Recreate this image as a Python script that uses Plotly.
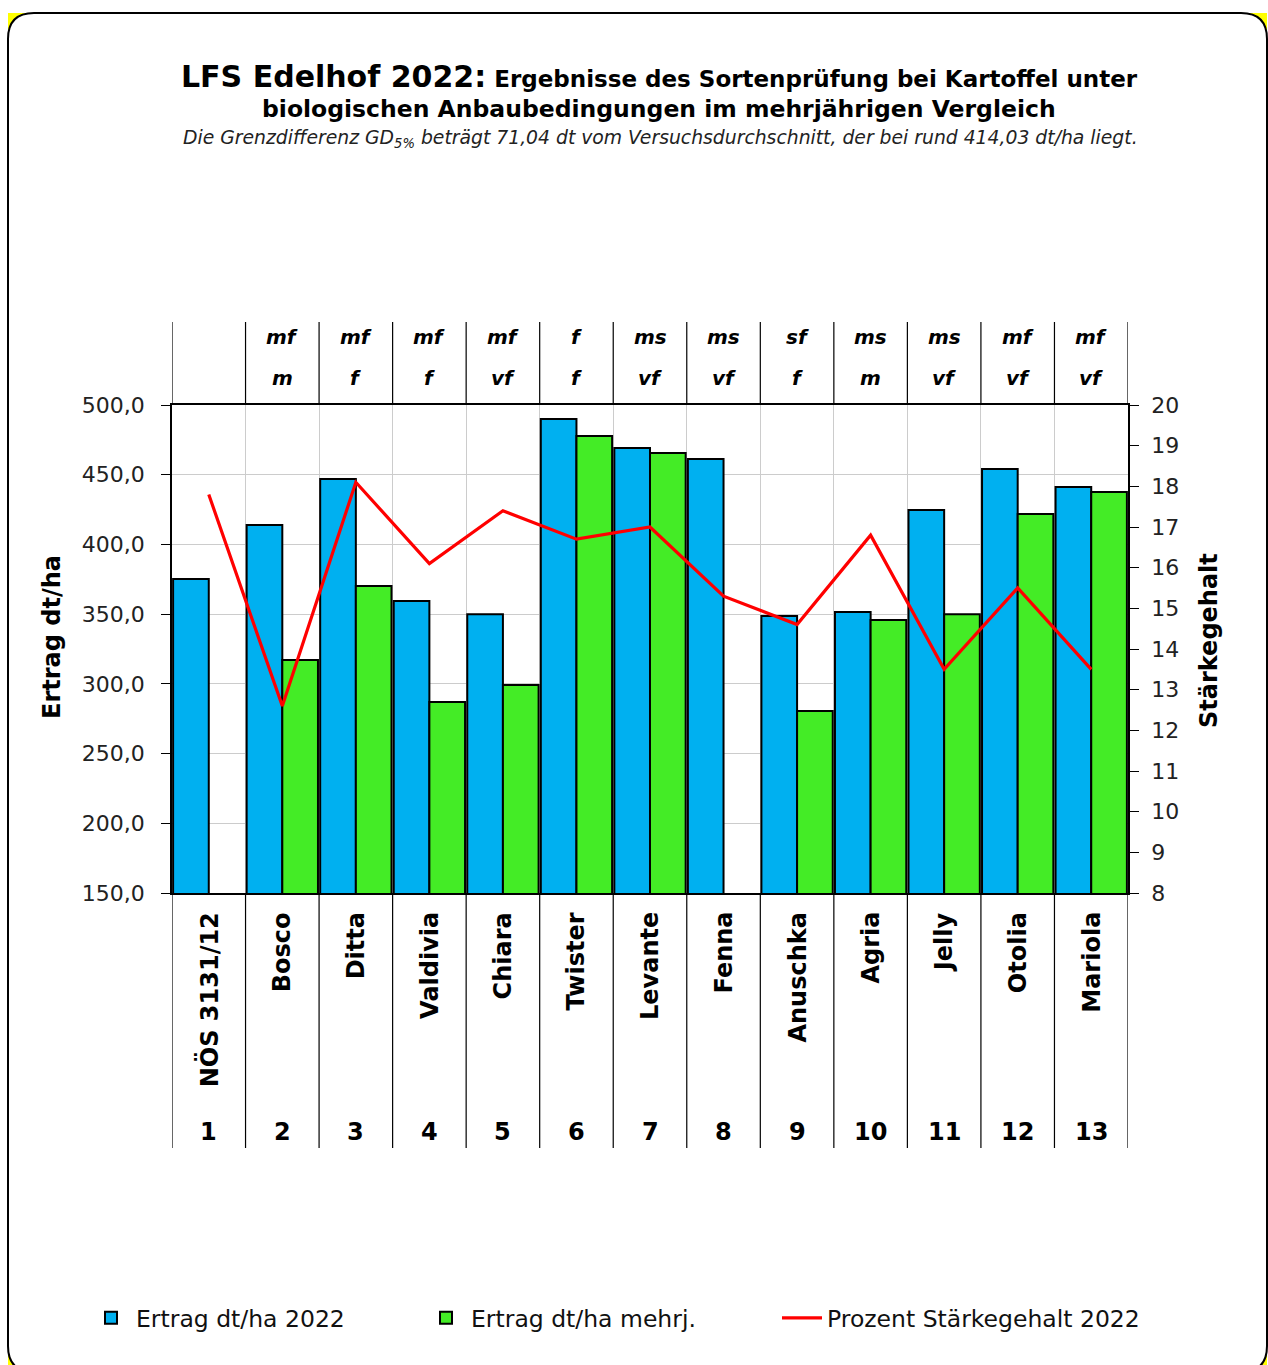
import plotly.graph_objects as go

# ---------------- data ----------------
categories = ["NÖS 3131/12", "Bosco", "Ditta", "Valdivia", "Chiara", "Twister", "Levante",
              "Fenna", "Anuschka", "Agria", "Jelly", "Otolia", "Mariola"]
numbers = ["1", "2", "3", "4", "5", "6", "7", "8", "9", "10", "11", "12", "13"]
reife = ["", "mf", "mf", "mf", "mf", "f", "ms", "ms", "sf", "ms", "ms", "mf", "mf"]
kochtyp = ["", "m", "f", "f", "vf", "f", "vf", "vf", "f", "m", "vf", "vf", "vf"]
ertrag_2022 = [375.2, 413.9, 446.9, 359.4, 350.0, 490.0, 469.2, 461.3, 348.6, 351.5, 424.7, 454.1, 441.2]
ertrag_mehrj = [None, 317.1, 370.2, 287.0, 299.1, 477.8, 465.6, None, 280.5, 345.8, 350.0, 421.8, 437.6]
staerke_2022 = [17.8, 12.6, 18.1, 16.1, 17.4, 16.7, 17.0, 15.3, 14.6, 16.8, 13.5, 15.5, 13.5]
y_ticks = [150, 200, 250, 300, 350, 400, 450, 500]
y2_ticks = [8, 9, 10, 11, 12, 13, 14, 15, 16, 17, 18, 19, 20]

# ---------------- geometry (pixels) ----------------
W, H = 1268, 1365
L, R, T, B = 172, 1128, 405, 893
PW, PH = R - L, B - T


def px(xp):
    return (xp - L) / PW


def py(yp):
    return (B - yp) / PH


FONT = "DejaVu Sans"
BLUE = "#00B0F0"
GREEN = "#44EC26"

fig = go.Figure()
fig.add_trace(go.Bar(x=categories, y=ertrag_2022, name="Ertrag dt/ha 2022",
                     marker=dict(color=BLUE, line=dict(color="black", width=2)),
                     legend="legend", showlegend=True))
fig.add_trace(go.Bar(x=categories, y=ertrag_mehrj, name="Ertrag dt/ha mehrj.",
                     marker=dict(color=GREEN, line=dict(color="black", width=2)),
                     legend="legend2", showlegend=True))
fig.add_trace(go.Scatter(x=categories, y=staerke_2022, name="Prozent Stärkegehalt 2022",
                         mode="lines", line=dict(color="#FF0000", width=3.2),
                         yaxis="y2", legend="legend3", showlegend=True))

shapes = []
# yellow corners behind the rounded white frame
x0, y0, x1, y1 = 8, 13, 1267, 1372
shapes.append(dict(type="rect", xref="paper", yref="paper", x0=px(x0), x1=px(x1), y0=py(y0), y1=py(y1),
                   fillcolor="#FFFF00", line=dict(width=0), layer="below"))
r = 26
path = (f"M {px(x0 + r)} {py(y0)} L {px(x1 - r)} {py(y0)} Q {px(x1)} {py(y0)} {px(x1)} {py(y0 + r)} "
        f"L {px(x1)} {py(y1 - r)} Q {px(x1)} {py(y1)} {px(x1 - r)} {py(y1)} "
        f"L {px(x0 + r)} {py(y1)} Q {px(x0)} {py(y1)} {px(x0)} {py(y1 - r)} "
        f"L {px(x0)} {py(y0 + r)} Q {px(x0)} {py(y0)} {px(x0 + r)} {py(y0)} Z")
shapes.append(dict(type="path", xref="paper", yref="paper", path=path, fillcolor="white",
                   line=dict(color="black", width=2), layer="below"))

# table lines above and below the plot area
for i in range(len(categories) + 1):
    xb = i - 0.5
    shapes.append(dict(type="line", xref="x", yref="paper", x0=xb, x1=xb,
                       y0=py(893), y1=py(1148), line=dict(color="black", width=1.2)))
    shapes.append(dict(type="line", xref="x", yref="paper", x0=xb, x1=xb,
                       y0=py(405), y1=py(322), line=dict(color="black", width=1.2)))

annotations = []
for c, a, b, n in zip(categories, reife, kochtyp, numbers):
    if a:
        annotations.append(dict(x=c, xref="x", y=py(337), yref="paper", yanchor="middle",
                                xanchor="center", text=f"<b><i>{a}</i></b>", showarrow=False,
                                font=dict(family=FONT, size=20, color="black")))
    if b:
        annotations.append(dict(x=c, xref="x", y=py(378), yref="paper", yanchor="middle",
                                xanchor="center", text=f"<b><i>{b}</i></b>", showarrow=False,
                                font=dict(family=FONT, size=20, color="black")))
    annotations.append(dict(x=c, xref="x", y=py(910), yref="paper", yanchor="top", xanchor="center",
                            textangle=-90, text=f"<b>{c}</b>", showarrow=False,
                            font=dict(family=FONT, size=24, color="black")))
    annotations.append(dict(x=c, xref="x", y=py(1132), yref="paper", yanchor="middle",
                            xanchor="center", text=f"<b>{n}</b>", showarrow=False,
                            font=dict(family=FONT, size=24, color="black")))

# titles
annotations.append(dict(x=px(659), y=py(76), xref="paper", yref="paper", showarrow=False,
                        xanchor="center", yanchor="middle",
                        text="<b><span style='font-size:30px'>LFS Edelhof 2022:</span> Ergebnisse des Sortenprüfung bei Kartoffel unter</b>",
                        font=dict(family=FONT, size=23, color="black")))
annotations.append(dict(x=px(659), y=py(109), xref="paper", yref="paper", showarrow=False,
                        xanchor="center", yanchor="middle",
                        text="<b>biologischen Anbaubedingungen im mehrjährigen Vergleich</b>",
                        font=dict(family=FONT, size=23.5, color="black")))
annotations.append(dict(x=px(660), y=py(139), xref="paper", yref="paper", showarrow=False,
                        xanchor="center", yanchor="middle",
                        text="<i>Die Grenzdifferenz GD<sub>5%</sub> beträgt 71,04 dt vom Versuchsdurchschnitt, der bei rund 414,03 dt/ha liegt.</i>",
                        font=dict(family=FONT, size=18.8, color="#222222")))
# axis titles
annotations.append(dict(x=px(52), y=py(637), xref="paper", yref="paper", showarrow=False,
                        xanchor="center", yanchor="middle",
                        textangle=-90, text="<b>Ertrag dt/ha</b>",
                        font=dict(family=FONT, size=24, color="black")))
annotations.append(dict(x=px(1209), y=py(641), xref="paper", yref="paper", showarrow=False,
                        xanchor="center", yanchor="middle",
                        textangle=-90, text="<b>Stärkegehalt</b>",
                        font=dict(family=FONT, size=24, color="black")))

legend_common = dict(orientation="h", yanchor="middle", y=(H - 1318) / H, yref="container",
                     xanchor="left", xref="container",
                     bgcolor="rgba(0,0,0,0)", font=dict(family=FONT, size=23.5, color="#111111"),
                     itemwidth=40)

fig.update_layout(
    width=W, height=H,
    showlegend=True,
    margin=dict(l=L, r=W - R, t=T, b=H - B, autoexpand=False),
    paper_bgcolor="white", plot_bgcolor="white",
    separators=",.",
    barmode="group", bargap=0.03, bargroupgap=0.0,
    font=dict(family=FONT, size=22, color="#222222"),
    xaxis=dict(type="category", tickson="boundaries", showgrid=True, gridcolor="#cccccc",
               gridwidth=1, showticklabels=False, ticks="", showline=True, linecolor="black",
               linewidth=1.5, mirror=True, range=[-0.5, 12.5]),
    yaxis=dict(range=[150, 500], tickvals=y_ticks, tickformat=".1f", showgrid=True,
               gridcolor="#cccccc", gridwidth=1, ticks="outside", ticklen=9, tickcolor="black",
               showline=True, linecolor="black", linewidth=1.5, ticklabelstandoff=12,
               tickfont=dict(family=FONT, size=22, color="#222222"), zeroline=False),
    yaxis2=dict(range=[8, 20], tickvals=y2_ticks, overlaying="y", side="right", showgrid=False,
                ticks="outside", ticklen=9, tickcolor="black", showline=True, linecolor="black",
                linewidth=1.5, ticklabelstandoff=8,
                tickfont=dict(family=FONT, size=22, color="#222222"), zeroline=False),
    legend=dict(legend_common, x=86 / W),
    legend2=dict(legend_common, x=421 / W),
    legend3=dict(legend_common, x=777 / W),
    shapes=shapes,
    annotations=annotations,
)

fig.write_html("out.html", config={"displayModeBar": False},
               post_script="document.body.style.margin='0px';")
